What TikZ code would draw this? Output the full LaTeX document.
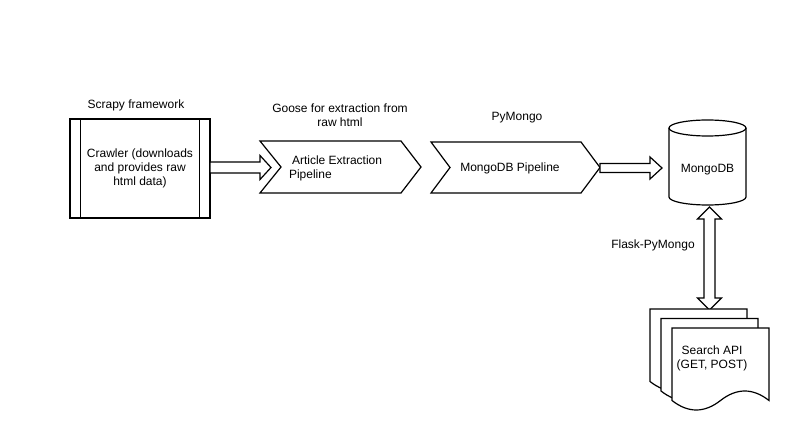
\documentclass[tikz,border=0pt]{standalone}
\usepackage{fontspec}
\setmainfont{Liberation Sans}
\usetikzlibrary{calc}
\begin{document}
\begin{tikzpicture}[x=1pt,y=-1pt,
  every node/.style={font=\fontsize{12pt}{14pt}\selectfont, inner sep=0pt, outer sep=0pt},
  shapeline/.style={draw=black, fill=white, line width=1.2pt, line join=miter},
  holder/.style={minimum width=#1},
  txt/.style={align=center, text=black}]
\useasboundingbox (0,0) rectangle (795,430);

% --- Crawler
\node[shapeline, minimum width=140pt, minimum height=99pt, align=center] (crawler) at (140,168.5)
  {Crawler (downloads\\and provides raw\\html data)};
\draw[line width=1.2pt] ([xshift=10.5pt]crawler.north west) -- ([xshift=10.5pt]crawler.south west);
\draw[line width=1.2pt] ([xshift=-10.5pt]crawler.north east) -- ([xshift=-10.5pt]crawler.south east);
\node[txt] (scrapy) at (136,105) {Scrapy framework};

% --- Chevron 1
\node[minimum width=161pt, minimum height=52pt] (ext) at (340.5,167) {};
\draw[shapeline] (ext.north west) -- ([xshift=-20pt]ext.north east) -- (ext.east)
  -- ([xshift=-20pt]ext.south east) -- (ext.south west) -- ([xshift=21pt]ext.west) -- cycle;
\node[align=left, anchor=west] (extlabel) at (289,168.5) {\hspace{3pt}Article Extraction\\Pipeline};
\node[txt] (goose) at (340,115) {Goose for extraction from\\raw html};

% --- Chevron 2
\node[minimum width=169pt, minimum height=51pt] (mdb) at (515.5,167.5) {};
\draw[shapeline] (mdb.north west) -- ([xshift=-19pt]mdb.north east) -- (mdb.east)
  -- ([xshift=-19pt]mdb.south east) -- (mdb.south west) -- ([xshift=19pt]mdb.west) -- cycle;
\node[txt] (mdblabel) at (510,168) {MongoDB Pipeline};
\node[txt] (pymongo) at (517,118) {PyMongo};

% --- Cylinder
\node[minimum width=77pt, minimum height=85pt] (db) at (707.5,162.5) {};
\draw[shapeline] ([yshift=-8pt]db.north west) -- ([yshift=8pt]db.south west)
  arc[start angle=180, end angle=360, x radius=38.5pt, y radius=8pt]
  -- ([yshift=-8pt]db.north east)
  arc[start angle=0, end angle=180, x radius=38.5pt, y radius=8pt] -- cycle;
\draw[line width=1.2pt] ([yshift=-8pt]db.north west)
  arc[start angle=180, end angle=360, x radius=38.5pt, y radius=8pt];
\node[txt] (dblabel) at (707.5,170) {MongoDB};

% --- Documents
\newcommand\docpage[1]{%
  \draw[shapeline] (#1.north west) -- (#1.north east) -- (#1.south east)
    .. controls ([xshift=-16.17pt,yshift=12.67pt]#1.south east) and ([xshift=-32.33pt,yshift=12.67pt]#1.south east) .. (#1.south)
    .. controls ([xshift=-16.17pt,yshift=-12.67pt]#1.south) and ([xshift=-32.33pt,yshift=-12.67pt]#1.south) .. (#1.south west)
    -- cycle;}
\node[minimum width=97pt, minimum height=72.5pt] (doc1) at (698.5,345.25) {};
\node[minimum width=97pt, minimum height=72.5pt] (doc2) at (709.5,354.75) {};
\node[minimum width=97pt, minimum height=72.5pt] (doc3) at (720.5,364.25) {};

% --- Double arrow (drawn before documents so pages sit on it)
\coordinate (dtop) at ($(db.south)+(2,2)$);
\coordinate (dbot) at ($(doc1.north)+(11,1)$);
\draw[shapeline] let \p1=(dtop), \p2=(dbot) in
  (\x1,\y1) -- ({\x1+12pt},{\y1-12pt}) -- ({\x1+5.5pt},{\y1-12pt})
  -- ({\x1+5.5pt},{\y2+12pt}) -- ({\x1+12pt},{\y2+12pt}) -- (\x1,\y2)
  -- ({\x1-12pt},{\y2+12pt}) -- ({\x1-5.5pt},{\y2+12pt})
  -- ({\x1-5.5pt},{\y1-12pt}) -- ({\x1-12pt},{\y1-12pt}) -- cycle;
\node[txt] (flask) at (653,245) {Flask-PyMongo};

\docpage{doc1}
\docpage{doc2}
\docpage{doc3}
\node[txt] (search) at (712,358.5) {Search API\\(GET, POST)};

% --- Arrow crawler -> chevron 1
\coordinate (a1tip) at (271,167.5);
\draw[shapeline] let \p1=(crawler.east), \p2=(a1tip) in
  (\x1,{\y2+5.5pt}) -- ({\x2-11pt},{\y2+5.5pt}) -- ({\x2-11pt},{\y2+12pt}) -- (\x2,\y2)
  -- ({\x2-11pt},{\y2-12pt}) -- ({\x2-11pt},{\y2-5.5pt}) -- (\x1,{\y2-5.5pt}) -- cycle;

% --- Arrow chevron 2 -> cylinder
\coordinate (a3tip) at (662,168);
\draw[shapeline] let \p1=(mdb.east), \p2=(a3tip) in
  (\x1,{\y2+4.5pt}) -- ({\x2-12pt},{\y2+4.5pt}) -- ({\x2-12pt},{\y2+11pt}) -- (\x2,\y2)
  -- ({\x2-12pt},{\y2-11pt}) -- ({\x2-12pt},{\y2-4.5pt}) -- (\x1,{\y2-4.5pt}) -- cycle;
\end{tikzpicture}
\end{document}
